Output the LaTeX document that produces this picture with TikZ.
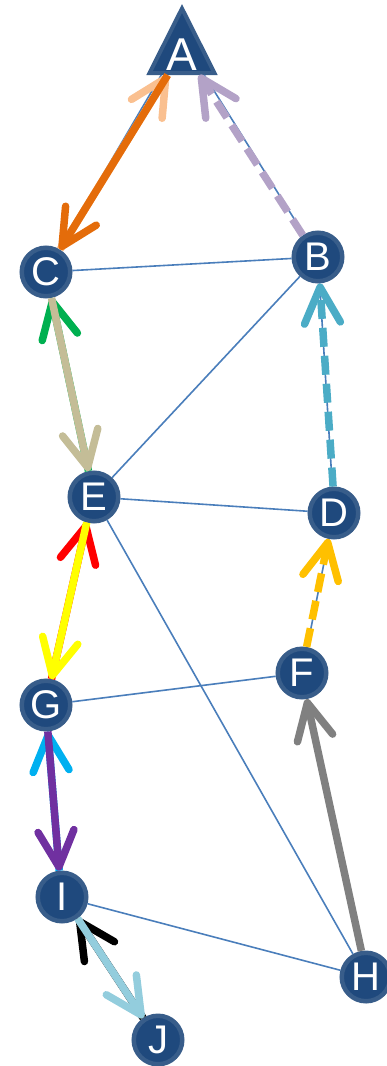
\documentclass[tikz,border=0pt]{standalone}
\usepackage{fontspec}
\setmainfont{Liberation Sans}
\usetikzlibrary{arrows.meta}
\definecolor{nfill}{RGB}{31,73,125}
\definecolor{nborder}{RGB}{56,93,138}
\definecolor{edgeblue}{RGB}{74,126,187}
\definecolor{corange}{RGB}{228,108,10}
\definecolor{clorange}{RGB}{250,192,144}
\definecolor{clavender}{RGB}{179,162,199}
\definecolor{cteal}{RGB}{75,172,198}
\definecolor{cgreen}{RGB}{0,176,80}
\definecolor{cbeige}{RGB}{196,189,151}
\definecolor{cred}{RGB}{255,0,0}
\definecolor{cyellow}{RGB}{255,255,0}
\definecolor{camber}{RGB}{255,192,0}
\definecolor{ccyan}{RGB}{0,176,240}
\definecolor{cpurple}{RGB}{112,48,160}
\definecolor{cgray}{RGB}{128,128,128}
\definecolor{clblue}{RGB}{147,205,221}
\begin{document}
\begin{tikzpicture}[x=1pt,y=-1pt,
 vertex/.style={circle, fill=nfill, draw=nborder, line width=4.5pt, minimum size=48.5pt, inner sep=0pt, text=white, font=\fontsize{40}{40}\selectfont},
 edge/.style={draw=edgeblue, line width=1.6pt},
 flow/.style={line width=7.5pt, -{Straight Barb[length=36pt,width=36pt,round]}},
 dashflow/.style={flow, dash pattern=on 19pt off 9pt}]
\useasboundingbox (0,0) rectangle (387,1066);
% nodes
\node[minimum width=71pt, minimum height=71pt, inner sep=0pt, outer sep=0pt] (A) at (182,39.5) {};
\draw[fill=nfill, draw=nborder, line width=4pt, line join=miter]
  ([xshift=3pt,yshift=2pt]A.south west) -- ([yshift=-4.5pt]A.north) -- ([xshift=-3pt,yshift=2pt]A.south east) -- cycle;
\node[text=white, font=\fontsize{46}{46}\selectfont, inner sep=0pt] (Alabel) at (182,55) {A};
\node[vertex] (B) at (318,257) {B};
\node[vertex] (C) at (46,272) {C};
\node[vertex] (E) at (94,497) {E};
\node[vertex] (D) at (334,513) {D};
\node[vertex] (F) at (302,673) {F};
\node[vertex] (G) at (46,705) {G};
\node[vertex] (I) at (62,897) {I};
\node[vertex] (H) at (366,977) {H};
\node[vertex] (J) at (158,1040) {J};
% thin edges
\draw[edge] (A) -- (C);
\draw[edge] (A) -- (B);
\draw[edge] (B) -- (C);
\draw[edge] (B) -- (E);
\draw[edge] (B) -- (D);
\draw[edge] (E) -- (D);
\draw[edge] (E) -- (H);
\draw[edge] (D) -- (F);
\draw[edge] (F) -- (G);
\draw[edge] (I) -- (H);
% flows
\draw[flow, clorange] (C.58) -- (A.-112);
\draw[flow, corange] (A.-112) -- (C.58);
\draw[dashflow, clavender] (B.125) -- (A.-64);
\draw[dashflow, cteal] (D.92) -- (B.-86);
\draw[flow, cgreen] (E.102) -- (C.-78);
\draw[flow, cbeige] (C.-78) -- (E.102);
\draw[flow, cred] (G.78) -- (E.-106);
\draw[flow, cyellow] (E.-106) -- (G.78);
\draw[dashflow, camber] (F.80) -- (D.-102);
\draw[flow, ccyan] (I.96) -- (G.-86);
\draw[flow, cpurple] (G.-86) -- (I.96);
\draw[flow, cgray] (H.100) -- (F.-80);
\draw[flow, black] (J.124) -- (I.-54);
\draw[flow, clblue] (I.-54) -- (J.124);
\end{tikzpicture}
\end{document}
